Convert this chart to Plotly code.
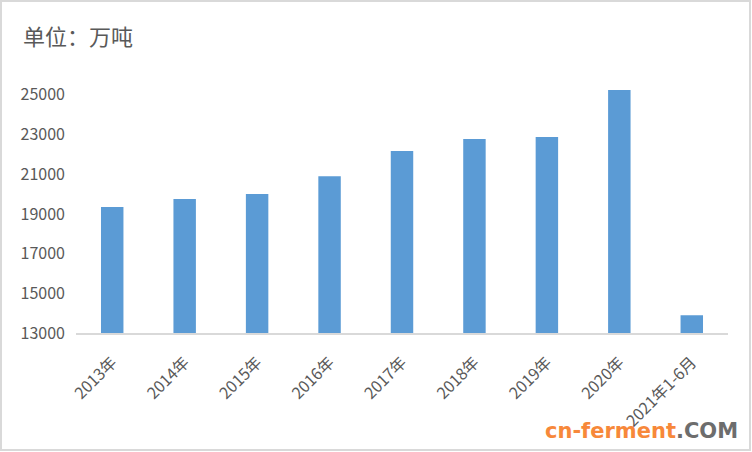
import plotly.graph_objects as go

# 数据（单位：万吨）
years = ["2013年", "2014年", "2015年", "2016年", "2017年", "2018年", "2019年", "2020年", "2021年1-6月"]
output = [19350, 19750, 20000, 20900, 22170, 22770, 22870, 25240, 13900]
y_ticks = [13000, 15000, 17000, 19000, 21000, 23000, 25000]

W, H = 752, 452
L, R, T, B = 76, 24, 75, 119
pw, ph = W - L - R, H - T - B

def px(x):
    return (x - L) / pw

def py(y):
    return (H - B - y) / ph

font_cn = "Noto Sans CJK SC, Microsoft YaHei, sans-serif"

fig = go.Figure()
fig.add_trace(go.Bar(x=years, y=output, marker=dict(color="#5B9BD5", line=dict(width=0))))

fig.update_layout(
    width=W, height=H,
    margin=dict(l=L, r=R, t=T, b=B, autoexpand=False),
    paper_bgcolor="white", plot_bgcolor="white",
    bargap=0.69,
    showlegend=False,
    font=dict(family=font_cn, color="#595959"),
    xaxis=dict(
        tickangle=-45, tickfont=dict(size=16, color="#595959"),
        showline=True, linecolor="#d9d9d9", linewidth=1.5,
        ticks="", showgrid=False, ticklabelstandoff=12,
    ),
    yaxis=dict(
        range=[13000, 26000], tickvals=y_ticks,
        ticktext=[str(v) for v in y_ticks],
        tickfont=dict(size=16, color="#595959"),
        showgrid=False, zeroline=False, showline=False, ticks="",
        ticklabelstandoff=10,
    ),
)

# 标题
fig.add_annotation(
    text="单位：万吨", xref="paper", yref="paper",
    x=px(21), y=py(35), xanchor="left", yanchor="middle",
    showarrow=False, font=dict(size=22, color="#595959", family=font_cn),
)

# 水印
fig.add_annotation(
    text="<b><span style='color:#F7883A'>cn-ferment</span><span style='color:#6d6d6d'>.COM</span></b>",
    xref="paper", yref="paper", x=px(740), y=py(431),
    xanchor="right", yanchor="middle", showarrow=False,
    font=dict(size=21, family="DejaVu Sans"),
)

# 边框
fig.add_shape(
    type="rect", xref="paper", yref="paper",
    x0=px(1), x1=px(750), y0=py(450), y1=py(1),
    line=dict(color="#d9d9d9", width=2), layer="below",
)

fig.write_html("out.html", config={"displayModeBar": False},
               post_script="document.body.style.margin='0';")
